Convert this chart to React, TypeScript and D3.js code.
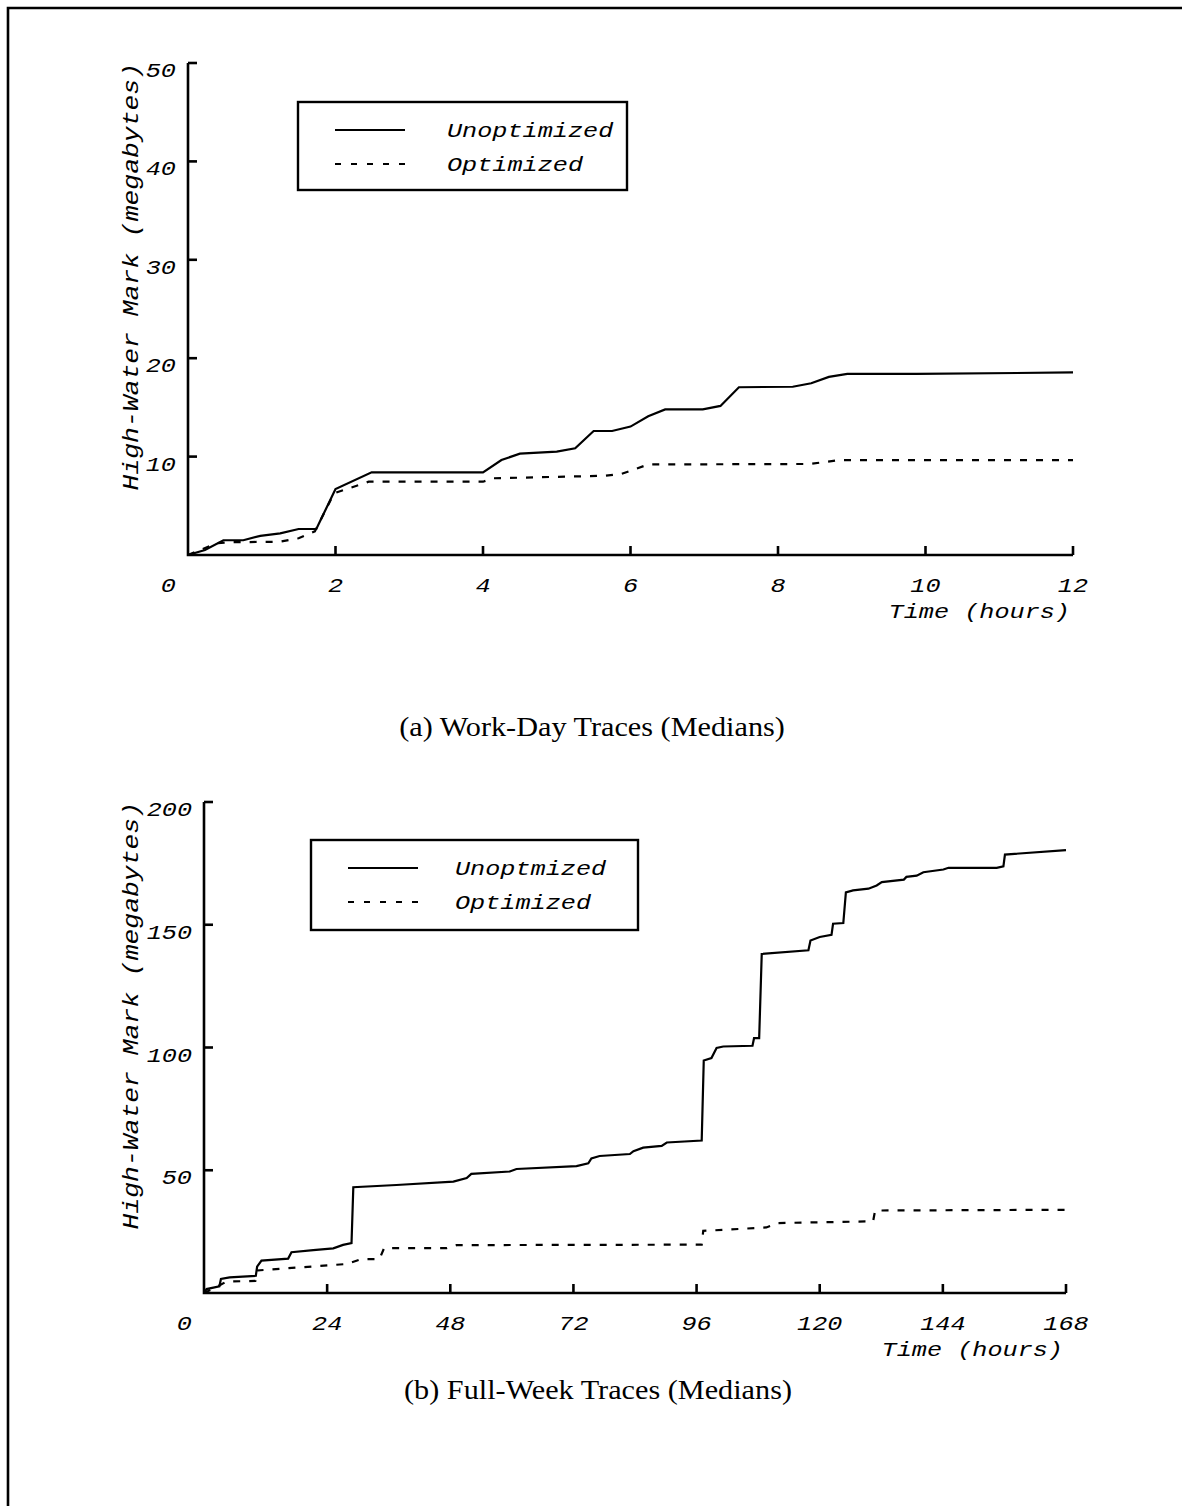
import React from 'react';
import * as d3 from 'd3';

// work-day traces (hours, megabytes)
const hoursA = [0, 0.23, 0.48, 0.75, 0.98, 1.25, 1.5, 1.74, 2.0, 2.49, 4.0, 4.25, 4.5, 5.0, 5.25, 5.5, 5.75, 6.0, 6.24, 6.47, 6.98, 7.22, 7.47, 8.2, 8.45, 8.69, 8.94, 9.88, 12];
const unoptA = [0, 0.5, 1.5, 1.5, 1.95, 2.2, 2.64, 2.64, 6.7, 8.4, 8.4, 9.65, 10.3, 10.5, 10.85, 12.6, 12.6, 13.05, 14.1, 14.8, 14.8, 15.15, 17.05, 17.1, 17.45, 18.1, 18.4, 18.4, 18.55];
const optHoursA = [0, 0.39, 0.6, 1.25, 1.5, 1.72, 1.98, 2.45, 4.0, 4.14, 5.65, 5.88, 6.24, 8.43, 8.84, 12];
const optA = [0, 1.2, 1.3, 1.35, 1.7, 2.4, 6.27, 7.45, 7.45, 7.8, 8.05, 8.25, 9.2, 9.25, 9.65, 9.65];

// full-week traces
const hoursB = [0, 0.5, 3.0, 3.3, 5.0, 10.1, 10.35, 11.2, 16.4, 17.05, 21.3, 25.2, 27.1, 28.75, 29.1, 37.5, 48.6, 51.2, 52.1, 59.6, 60.9, 72.6, 74.9, 75.5, 77.1, 83.0, 83.7, 85.6, 89.2, 90.2, 97.0, 97.4, 98.9, 99.9, 101.2, 106.9, 107.2, 108.2, 108.7, 117.8, 118.2, 120.0, 122.3, 122.6, 124.6, 125.1, 126.5, 129.5, 131.1, 132.1, 136.4, 136.9, 138.9, 140.2, 144.1, 145.1, 154.5, 155.8, 156.1, 168];
const unoptB = [0, 1.6, 2.7, 5.7, 6.35, 7.0, 10.7, 13.2, 14.0, 16.6, 17.5, 18.2, 19.6, 20.3, 43.1, 44.0, 45.4, 46.8, 48.5, 49.5, 50.5, 51.7, 52.8, 54.8, 55.8, 56.6, 57.8, 59.2, 59.9, 61.3, 62.1, 94.7, 95.7, 99.8, 100.4, 100.7, 103.8, 103.8, 138.1, 139.6, 143.6, 145.0, 145.9, 150.4, 150.7, 163.2, 164.0, 164.7, 166.0, 167.4, 168.4, 169.5, 170.0, 171.4, 172.5, 173.2, 173.2, 173.8, 178.6, 180.4];
const optHoursB = [0, 2.5, 4.4, 10.0, 10.4, 27.8, 30.7, 34.2, 35.1, 47.3, 49.2, 97.0, 97.3, 109.6, 111.9, 130.4, 130.8, 168];
const optB = [0, 2.5, 4.7, 4.9, 9.2, 11.8, 13.8, 13.8, 18.3, 18.3, 19.5, 19.7, 25.3, 26.7, 28.5, 29.2, 33.6, 33.9];

const xTicksA = [2, 4, 6, 8, 10, 12];
const yTicksA = [10, 20, 30, 40, 50];
const xTicksB = [24, 48, 72, 96, 120, 144, 168];
const yTicksB = [50, 100, 150, 200];

const MONO = '"Liberation Mono", monospace';
const SERIF = '"Liberation Serif", serif';

function T({ x, y, anchor = 'start', size = 21, sx = 1.2, rot = 0, font = MONO, italic = true, children }: any) {
  return (
    <text
      transform={`translate(${x},${y})${rot ? ` rotate(${rot})` : ''} scale(${sx},1)`}
      textAnchor={anchor}
      fontFamily={font}
      fontSize={size}
      fontStyle={italic ? 'italic' : 'normal'}
      fill="#000"
    >
      {children}
    </text>
  );
}

function Panel({ g, xMax, yMax, xTicks, yTicks, unX, unY, opX, opY, labels, caption }: any) {
  const x = d3.scaleLinear().domain([0, xMax]).range([g.left, g.right]);
  const y = d3.scaleLinear().domain([0, yMax]).range([g.bottom, g.top]);
  const line = d3.line<number>().x((d, i, arr: any) => 0).y(() => 0);
  const path = (xs: number[], ys: number[]) =>
    d3.line<number>().x((d) => x(d)).y((d, i) => y(ys[i]))(xs) || '';
  void line;
  const L = g.legend;
  return (
    <g>
      {/* axes */}
      <path
        d={`M${g.left},${g.top}V${g.bottom}H${g.right}`}
        fill="none"
        stroke="#000"
        strokeWidth={2.6}
      />
      {yTicks.map((t: number) => (
        <g key={'y' + t}>
          <line x1={g.left} x2={g.left + 9} y1={y(t)} y2={y(t)} stroke="#000" strokeWidth={2.6} />
          <T x={g.left - 12} y={y(t) + 14} anchor="end">{t}</T>
        </g>
      ))}
      {xTicks.map((t: number) => (
        <g key={'x' + t}>
          <line x1={x(t)} x2={x(t)} y1={g.bottom} y2={g.bottom - 9} stroke="#000" strokeWidth={2.6} />
          <T x={x(t)} y={g.bottom + 37} anchor="middle">{t}</T>
        </g>
      ))}
      <T x={g.left - 12} y={g.bottom + 37} anchor="end">0</T>
      <T x={g.right - 3} y={g.bottom + 63} anchor="end">Time (hours)</T>
      <T x={138} y={g.top} anchor="end" rot={-90} size={22}>High-Water Mark (megabytes)</T>

      {/* series */}
      <path d={path(unX, unY)} fill="none" stroke="#000" strokeWidth={2.2} />
      <path d={path(opX, opY)} fill="none" stroke="#000" strokeWidth={2.2} strokeDasharray="7 9" />

      {/* legend */}
      <rect x={L.x} y={L.y} width={L.w} height={L.h} fill="#fff" stroke="#000" strokeWidth={2.4} />
      <line x1={L.x + 37} x2={L.x + 107} y1={L.y + 28} y2={L.y + 28} stroke="#000" strokeWidth={2.2} />
      <line x1={L.x + 37} x2={L.x + 107} y1={L.y + 62} y2={L.y + 62} stroke="#000" strokeWidth={2.2} strokeDasharray="6 10" />
      <T x={L.tx} y={L.y + 35}>{labels[0]}</T>
      <T x={L.tx} y={L.y + 69}>{labels[1]}</T>

      <T x={g.capX} y={g.capY} anchor="middle" font={SERIF} italic={false} size={27} sx={1.12}>
        {caption}
      </T>
    </g>
  );
}

export default function App() {
  const gA = {
    left: 188, right: 1073, top: 63, bottom: 555,
    legend: { x: 298, y: 102, w: 329, h: 88, tx: 447 },
    capX: 592, capY: 736,
  };
  const gB = {
    left: 204, right: 1066, top: 802, bottom: 1293,
    legend: { x: 311, y: 840, w: 327, h: 90, tx: 455 },
    capX: 598, capY: 1399,
  };
  return (
    <svg
      width={1182}
      height={1506}
      style={{ position: 'absolute', left: 0, top: 0, background: '#fff' }}
    >
      <rect x={0} y={0} width={1182} height={1506} fill="#fff" />
      <path d="M8,1506V8H1182" fill="none" stroke="#000" strokeWidth={2.6} />
      <Panel
        g={gA}
        xMax={12}
        yMax={50}
        xTicks={xTicksA}
        yTicks={yTicksA}
        unX={hoursA}
        unY={unoptA}
        opX={optHoursA}
        opY={optA}
        labels={['Unoptimized', 'Optimized']}
        caption="(a) Work-Day Traces (Medians)"
      />
      <Panel
        g={gB}
        xMax={168}
        yMax={200}
        xTicks={xTicksB}
        yTicks={yTicksB}
        unX={hoursB}
        unY={unoptB}
        opX={optHoursB}
        opY={optB}
        labels={['Unoptmized', 'Optimized']}
        caption="(b) Full-Week Traces (Medians)"
      />
    </svg>
  );
}
